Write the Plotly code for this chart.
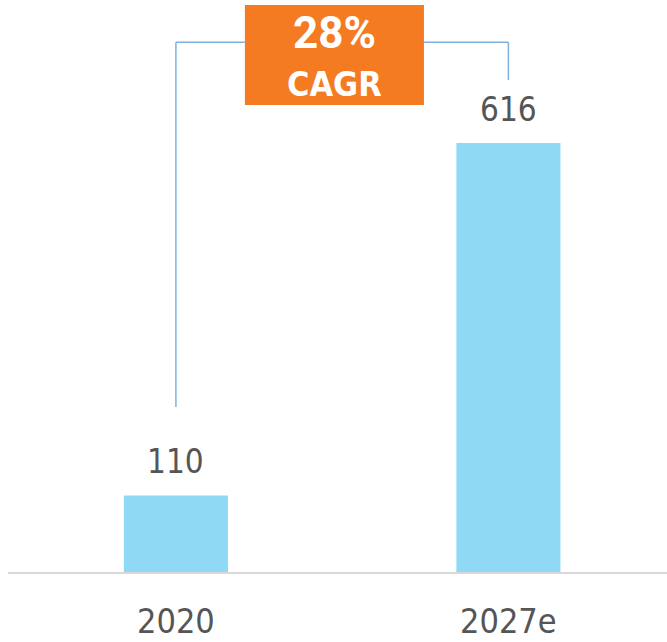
import plotly.graph_objects as go

# Market size by year
categories = ["2020", "2027e"]
values = [110, 616]
cagr_label = "28%"
cagr_caption = "CAGR"

BAR_COLOR = "#8FD9F5"
LABEL_COLOR = "#555555"
BRACKET_COLOR = "#7FB2DF"
BOX_COLOR = "#F47B22"
LABEL_FONT = "DejaVu Sans Condensed, Liberation Sans Narrow, sans-serif"

x_pos = list(range(len(categories)))

fig = go.Figure(
    go.Bar(
        x=x_pos,
        y=values,
        width=0.313,
        marker=dict(color=BAR_COLOR, line=dict(width=0)),
        hoverinfo="skip",
    )
)

# value labels above bars
for xi, v in zip(x_pos, values):
    fig.add_annotation(
        x=xi, y=v, text=str(v), showarrow=False, yanchor="bottom", yshift=12,
        font=dict(family=LABEL_FONT, size=33, color=LABEL_COLOR),
    )

# category labels under the baseline
for xi, c in zip(x_pos, categories):
    fig.add_annotation(
        x=xi, y=0, yref="y", text=c, showarrow=False, yanchor="top", yshift=-27,
        font=dict(family=LABEL_FONT, size=34, color=LABEL_COLOR),
    )

# growth bracket from first bar to last bar
top_val = max(values) * 1.235
left_bottom = values[0] + 127
right_bottom = max(values) * 1.147
box_x0, box_x1 = 0.2075, 0.746
fig.add_shape(type="line", x0=x_pos[0], x1=x_pos[0], y0=left_bottom, y1=top_val,
              line=dict(color=BRACKET_COLOR, width=1.5))
fig.add_shape(type="line", x0=x_pos[0], x1=box_x0, y0=top_val, y1=top_val,
              line=dict(color=BRACKET_COLOR, width=1.5))
fig.add_shape(type="line", x0=box_x1, x1=x_pos[-1], y0=top_val, y1=top_val,
              line=dict(color=BRACKET_COLOR, width=1.5))
fig.add_shape(type="line", x0=x_pos[-1], x1=x_pos[-1], y0=right_bottom, y1=top_val,
              line=dict(color=BRACKET_COLOR, width=1.5))

# CAGR box
fig.add_shape(type="rect", x0=box_x0, x1=box_x1, y0=670.6, y1=814,
              fillcolor=BOX_COLOR, line=dict(width=0), layer="above")
box_cx = (box_x0 + box_x1) / 2
fig.add_annotation(x=box_cx, y=(572 - 33) / 0.6964, text=f"<b>{cagr_label}</b>",
                   showarrow=False, font=dict(family="Roboto, sans-serif", size=44, color="white"))
fig.add_annotation(x=box_cx, y=(572 - 84) / 0.6964, text=f"<b>{cagr_caption}</b>",
                   showarrow=False, font=dict(family=LABEL_FONT, size=34, color="white"))

fig.update_layout(
    width=667, height=642,
    margin=dict(l=8, r=0, t=0, b=70),
    paper_bgcolor="white", plot_bgcolor="white",
    showlegend=False,
    xaxis=dict(range=[-0.505, 1.477], showgrid=False, zeroline=False,
               showticklabels=False, showline=True, linecolor="#D9D9D9", linewidth=2,
               fixedrange=True),
    yaxis=dict(range=[0, 821.3], showgrid=False, zeroline=False, showticklabels=False,
               showline=False, fixedrange=True),
)

fig.write_html("out.html")
